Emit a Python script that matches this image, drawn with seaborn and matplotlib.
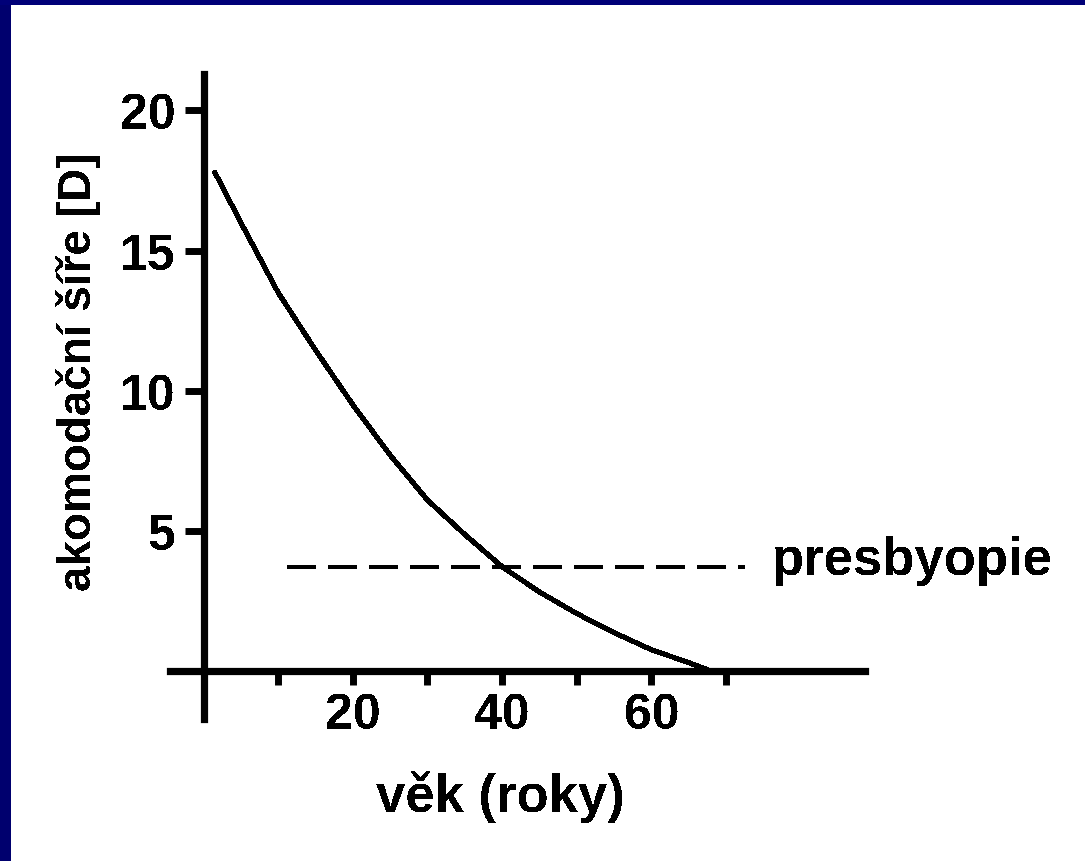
import matplotlib
matplotlib.use("Agg")
import matplotlib.pyplot as plt
import seaborn as sns
import pandas as pd
from matplotlib.patches import Rectangle

# ---- data ----
age = [1.5, 5, 10, 15, 20, 25, 30, 35, 40, 45, 50, 55, 60, 65, 67.5]
accommodation = [17.8, 16.0, 13.5, 11.45, 9.5, 7.7, 6.1, 4.87, 3.72, 2.82, 2.05, 1.37, 0.76, 0.3, 0.05]
presby_age = [11.2, 72.5]
presby_level = [3.7, 3.7]
x_ticks = [10, 20, 30, 40, 50, 60, 70]
x_ticklabels = ["", "20", "", "40", "", "60", ""]
y_ticks = [5, 10, 15, 20]
y_ticklabels = ["5", "10", "15", "20"]
x_title = "věk (roky)"
y_title = "akomodační šíře [D]"
presby_text = "presbyopie"

sns.set_theme(style="white")
plt.rcParams["font.family"] = ["Liberation Sans", "DejaVu Sans"]
plt.rcParams["font.weight"] = "bold"
plt.rcParams["text.antialiased"] = False
plt.rcParams["lines.antialiased"] = False

fig = plt.figure(figsize=(10.85, 8.62), dpi=100, facecolor="white")
W, H = 1085, 862
ax = fig.add_axes([170 / W, (H - 720) / H, 695 / W, 645 / H])
ax.set_facecolor("none")

# navy frame pieces (left and top)
fig.patches.append(Rectangle((0, 0), 11 / W, 1, transform=fig.transFigure,
                             facecolor="#00006e", edgecolor="none", zorder=-1))
fig.patches.append(Rectangle((0, 1 - 6 / H), 1, 6 / H, transform=fig.transFigure,
                             facecolor="#000078", edgecolor="none", zorder=-1))

df = pd.DataFrame({"age": age, "acc": accommodation})
sns.lineplot(data=df, x="age", y="acc", ax=ax, color="black", linewidth=2.9,
             estimator=None, sort=True, clip_on=False)
dp = pd.DataFrame({"age": presby_age, "lvl": presby_level})
sns.lineplot(data=dp, x="age", y="lvl", ax=ax, color="black", linewidth=2.9,
             estimator=None, linestyle=(0, (7, 3.2)))

ax.set_xlim(-4.49, 88.6)
ax.set_ylim(-1.71, 21.3)

for s in ["top", "right"]:
    ax.spines[s].set_visible(False)
ax.spines["left"].set_position(("data", 0))
ax.spines["bottom"].set_position(("data", 0))
for s in ["left", "bottom"]:
    ax.spines[s].set_linewidth(5.2)
    ax.spines[s].set_color("black")

ax.set_xticks(x_ticks)
ax.set_xticklabels(x_ticklabels)
ax.set_yticks(y_ticks)
ax.set_yticklabels(y_ticklabels)
ax.tick_params(axis="x", direction="out", length=10, width=5, pad=5,
               labelsize=36, colors="black", bottom=True)
ax.tick_params(axis="y", direction="out", length=14, width=5, pad=6,
               labelsize=36, colors="black", left=True)
for lab in ax.get_xticklabels() + ax.get_yticklabels():
    lab.set_fontweight("bold")

ax.set_xlabel(x_title, fontsize=38, fontweight="bold", color="black")
ax.xaxis.set_label_coords(0.475, -0.119)
ax.xaxis.label.set_va("center")
ax.set_ylabel(y_title, fontsize=33, fontweight="bold", color="black")
ax.yaxis.set_label_coords(-0.132, 0.54)
ax.yaxis.label.set_va("center")

ax.text(76.1, 3.45, presby_text, fontsize=38, fontweight="bold", color="black",
        ha="left", va="baseline")

fig.savefig("out.png", dpi=100, facecolor="white")
